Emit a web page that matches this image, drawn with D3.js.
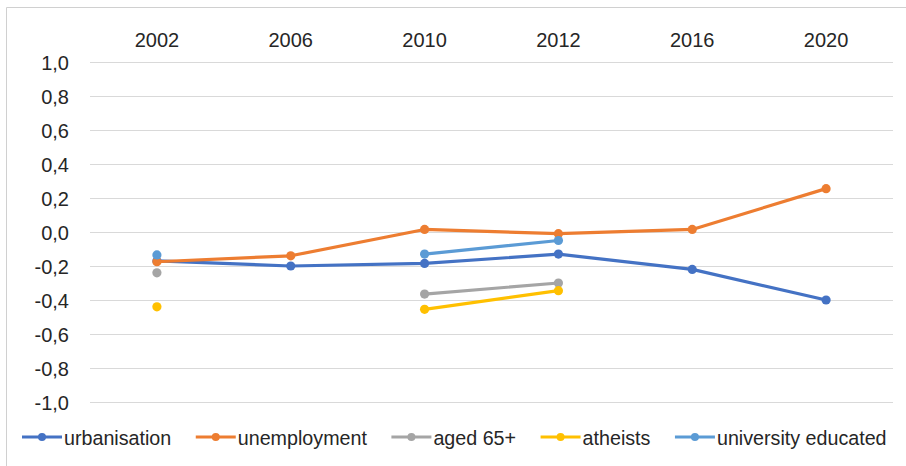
<!DOCTYPE html>
<html>
<head>
<meta charset="utf-8">
<script src="https://cdn.jsdelivr.net/npm/d3@7"></script>
<style>
  html, body { margin: 0; padding: 0; background: #fff; }
  svg { display: block; }
  text { font-family: "Liberation Sans", Arial, sans-serif; fill: #262626; }
</style>
</head>
<body>
<script>
// Survey years along the top axis
const years = ["2002", "2006", "2010", "2012", "2016", "2020"];

// Correlation values per indicator (null = not measured that year)
const urbanisation = [-0.17, -0.20, -0.185, -0.13, -0.22, -0.40];
const unemployment = [-0.175, -0.14, 0.015, -0.01, 0.015, 0.255];
const aged65 = [-0.24, null, -0.365, -0.30, null, null];
const atheists = [-0.44, null, -0.455, -0.345, null, null];
const universityEducated = [-0.135, null, -0.13, -0.05, null, null];

const seriesNames = ["urbanisation", "unemployment", "aged 65+", "atheists", "university educated"];
const seriesValues = [urbanisation, unemployment, aged65, atheists, universityEducated];
const seriesColors = ["#4472C4", "#ED7D31", "#A5A5A5", "#FFC000", "#5B9BD5"];

const yTicks = [1.0, 0.8, 0.6, 0.4, 0.2, 0.0, -0.2, -0.4, -0.6, -0.8, -1.0];

const W = 906, H = 466;
const svg = d3.select("body").append("svg").attr("width", W).attr("height", H);

// Chart frame
svg.append("path")
  .attr("d", `M6.5,${H} V7.5 H${W}`)
  .attr("fill", "none").attr("stroke", "#d0d0d0").attr("stroke-width", 1);

const x = d3.scaleBand().domain(years).range([90, 893]);
const y = d3.scaleLinear().domain([-1, 1]).range([402, 62]);

// Horizontal gridlines
svg.append("g").selectAll("line").data(yTicks).join("line")
  .attr("x1", 90).attr("x2", 893)
  .attr("y1", d => Math.round(y(d)) + 0.5).attr("y2", d => Math.round(y(d)) + 0.5)
  .attr("stroke", "#d9d9d9").attr("stroke-width", 1);

// Value axis labels: comma decimal, plain hyphen for negatives
const fmt = d => d3.format(".1f")(d).replace("\u2212", "-").replace(".", ",");
const yAxis = d3.axisLeft(y).tickValues(yTicks).tickFormat(fmt).tickSize(0).tickPadding(0);
const gy = svg.append("g").attr("transform", "translate(69,0)").call(yAxis);
gy.select(".domain").remove();
gy.selectAll("text").attr("font-size", 20).attr("font-family", "Liberation Sans, Arial, sans-serif")
  .attr("fill", "#262626").attr("dy", "0.36em");

// Year labels on top
const xAxis = d3.axisTop(x).tickSize(0).tickPadding(0);
const gx = svg.append("g").attr("transform", "translate(0,47)").call(xAxis);
gx.select(".domain").remove();
gx.selectAll("text").attr("font-size", 20).attr("font-family", "Liberation Sans, Arial, sans-serif")
  .attr("fill", "#262626").attr("dy", 0);

const cx = d => x(d) + x.bandwidth() / 2;

const line = d3.line()
  .defined(d => d.v !== null)
  .x(d => cx(d.year))
  .y(d => y(d.v));

seriesValues.forEach((vals, i) => {
  const pts = years.map((yr, j) => ({ year: yr, v: vals[j] }));
  const g = svg.append("g");
  g.append("path").datum(pts)
    .attr("d", line)
    .attr("fill", "none").attr("stroke", seriesColors[i])
    .attr("stroke-width", 3.2).attr("stroke-linejoin", "round").attr("stroke-linecap", "round");
  g.selectAll("circle").data(pts.filter(d => d.v !== null)).join("circle")
    .attr("cx", d => cx(d.year)).attr("cy", d => y(d.v)).attr("r", 4.6)
    .attr("fill", seriesColors[i]);
});

// Legend
const legend = svg.append("g").attr("transform", "translate(0,437)");
let lx = 22;
seriesNames.forEach((name, i) => {
  const item = legend.append("g").attr("transform", `translate(${lx},0)`);
  item.append("line").attr("x1", 0).attr("x2", 40).attr("y1", 0).attr("y2", 0)
    .attr("stroke", seriesColors[i]).attr("stroke-width", 3.2);
  item.append("circle").attr("cx", 20).attr("cy", 0).attr("r", 4).attr("fill", seriesColors[i]);
  const t = item.append("text").attr("x", 42).attr("y", 8).attr("font-size", 19.7).text(name);
  lx += 42 + t.node().getComputedTextLength() + 24.5;
});
</script>
</body>
</html>
